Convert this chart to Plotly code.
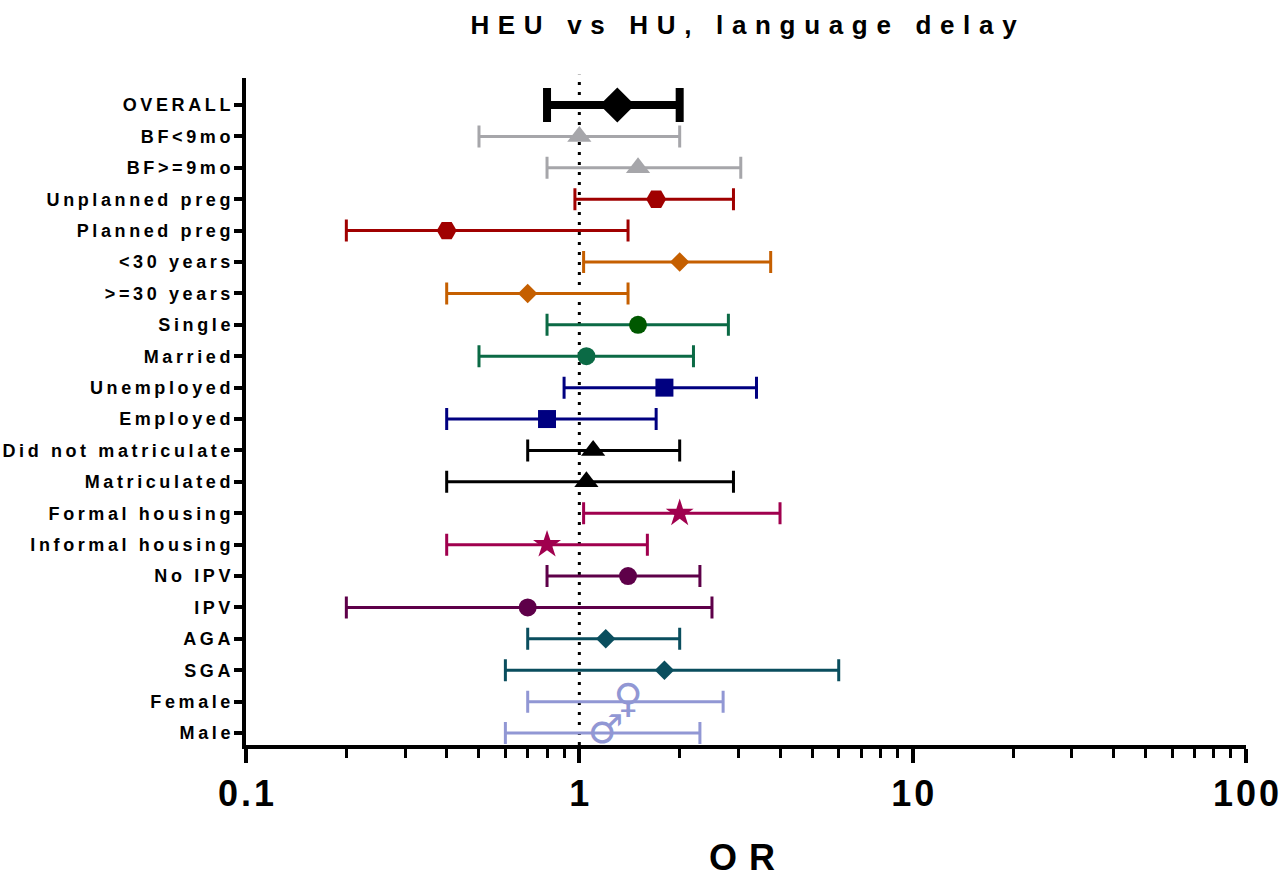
import plotly.graph_objects as go

# Subgroup odds ratios with 95% confidence intervals
labels = [
    "OVERALL", "BF<9mo", "BF>=9mo", "Unplanned preg", "Planned preg",
    "<30 years", ">=30 years", "Single", "Married", "Unemployed", "Employed",
    "Did not matriculate", "Matriculated", "Formal housing", "Informal housing",
    "No IPV", "IPV", "AGA", "SGA", "Female", "Male",
]
or_est = [1.3, 1.0, 1.5, 1.7, 0.4, 2.0, 0.7, 1.5, 1.05, 1.8, 0.8,
          1.1, 1.05, 2.0, 0.8, 1.4, 0.7, 1.2, 1.8, 1.4, 1.2]
ci_low = [0.8, 0.5, 0.8, 0.97, 0.2, 1.03, 0.4, 0.8, 0.5, 0.9, 0.4,
          0.7, 0.4, 1.03, 0.4, 0.8, 0.2, 0.7, 0.6, 0.7, 0.6]
ci_high = [2.0, 2.0, 3.05, 2.9, 1.4, 3.75, 1.4, 2.8, 2.2, 3.4, 1.7,
           2.0, 2.9, 4.0, 1.6, 2.3, 2.5, 2.0, 6.0, 2.7, 2.3]

x_tick_vals = [0.1, 1, 10, 100]
x_tick_text = ["0.1", "1", "10", "100"]
x_minor_vals = [0.2, 0.3, 0.4, 0.5, 0.6, 0.7, 0.8, 0.9,
                2, 3, 4, 5, 6, 7, 8, 9,
                20, 30, 40, 50, 60, 70, 80, 90]

# Marker styles, row by row: (line colour, marker colour, symbol, size)
GREY = "#a6a6aa"
RED = "#a00000"
ORANGE = "#c55f00"
GREEN = "#0b6a45"
NAVY = "#000080"
CRIMSON = "#a0004e"
PURPLE = "#5e0049"
TEAL = "#0a4e5e"
LAVENDER = "#9197d4"
styles = [
    ("black", "black", "diamond", 27),
    (GREY, GREY, "triangle-up", 21),
    (GREY, GREY, "triangle-up", 21),
    (RED, RED, "hexagon2", 20),
    (RED, RED, "hexagon2", 20),
    (ORANGE, ORANGE, "diamond", 15),
    (ORANGE, ORANGE, "diamond", 15),
    (GREEN, "#005800", "circle", 18),
    (GREEN, GREEN, "circle", 18),
    (NAVY, NAVY, "square", 18),
    (NAVY, NAVY, "square", 18),
    ("black", "black", "triangle-up", 21),
    ("black", "black", "triangle-up", 21),
    (CRIMSON, CRIMSON, "star", 21),
    (CRIMSON, CRIMSON, "star", 21),
    (PURPLE, PURPLE, "circle", 18),
    (PURPLE, PURPLE, "circle", 18),
    (TEAL, TEAL, "diamond", 15),
    (TEAL, TEAL, "diamond", 15),
    (LAVENDER, LAVENDER, "♀", 40),
    (LAVENDER, LAVENDER, "♂", 40),
]

FONT = "Liberation Sans, Arial, Helvetica, sans-serif"


def spaced(s, sep="\u2009"):
    return sep.join(s)


fig = go.Figure()

for i, (lab, est, lo, hi) in enumerate(zip(labels, or_est, ci_low, ci_high)):
    line_col, mk_col, symbol, size = styles[i]
    overall = i == 0
    err = dict(
        type="data", symmetric=False,
        array=[hi - est], arrayminus=[est - lo],
        color=line_col,
        thickness=8 if overall else 3,
        width=17 if overall else 11,
    )
    if symbol in ("♀", "♂"):
        # whisker drawn by an invisible point, glyph drawn as text
        fig.add_trace(go.Scatter(
            x=[est], y=[i], mode="markers",
            marker=dict(size=1, color="rgba(0,0,0,0)"),
            error_x=err, showlegend=False, hoverinfo="skip",
        ))
        fig.add_trace(go.Scatter(
            x=[est], y=[i], mode="text", text=[symbol],
            textposition="middle center",
            textfont=dict(family="DejaVu Sans", size=size, color=mk_col, weight="bold"),
            showlegend=False, name=lab,
        ))
    else:
        fig.add_trace(go.Scatter(
            x=[est], y=[i], mode="markers",
            marker=dict(symbol=symbol, size=size, color=mk_col, line=dict(width=0)),
            error_x=err, showlegend=False, name=lab,
        ))

# Reference line at OR = 1
fig.add_shape(
    type="line", xref="x", yref="paper", x0=1, x1=1, y0=0, y1=1.005,
    line=dict(color="black", width=3, dash="3px,7px"), layer="below",
)

fig.update_layout(
    width=1286, height=879,
    margin=dict(l=246, r=40, t=78, b=134, autoexpand=False),
    paper_bgcolor="white", plot_bgcolor="white",
    title=dict(
        text=spaced("HEU vs HU, language delay", "\u2004"),
        x=0.4975, xanchor="center", xref="paper", y=1 - 25 / 879, yanchor="middle",
        font=dict(family=FONT, size=26, color="black", weight="bold"),
    ),
    xaxis=dict(
        type="log", range=[-1, 2], automargin=False,
        showgrid=False, zeroline=False,
        showline=True, linecolor="black", linewidth=4,
        ticks="outside", ticklen=14, tickwidth=4, tickcolor="black",
        tickvals=x_tick_vals, ticktext=[spaced(t, "\u200a") for t in x_tick_text],
        tickfont=dict(family=FONT, size=36, color="black", weight="bold"),
        ticklabeloverflow="allow",
        minor=dict(tickvals=x_minor_vals, ticks="outside", ticklen=9,
                   tickwidth=3, tickcolor="black", showgrid=False),
    ),
    yaxis=dict(
        range=[20.38, -0.86], automargin=False,
        showgrid=False, zeroline=False,
        showline=True, linecolor="black", linewidth=4,
        ticks="outside", ticklen=8, tickwidth=4, tickcolor="black",
        tickvals=list(range(len(labels))),
        ticktext=[spaced(t) for t in labels],
        tickfont=dict(family=FONT, size=18, color="black", weight="bold"),
    ),
    annotations=[dict(
        text=spaced("OR", "\u2004"), xref="paper", yref="paper",
        x=0.496, y=-(857 - 745) / 667, xanchor="center", yanchor="middle",
        showarrow=False,
        font=dict(family=FONT, size=36, color="black", weight="bold"),
    )],
)

fig.write_html("out.html")
